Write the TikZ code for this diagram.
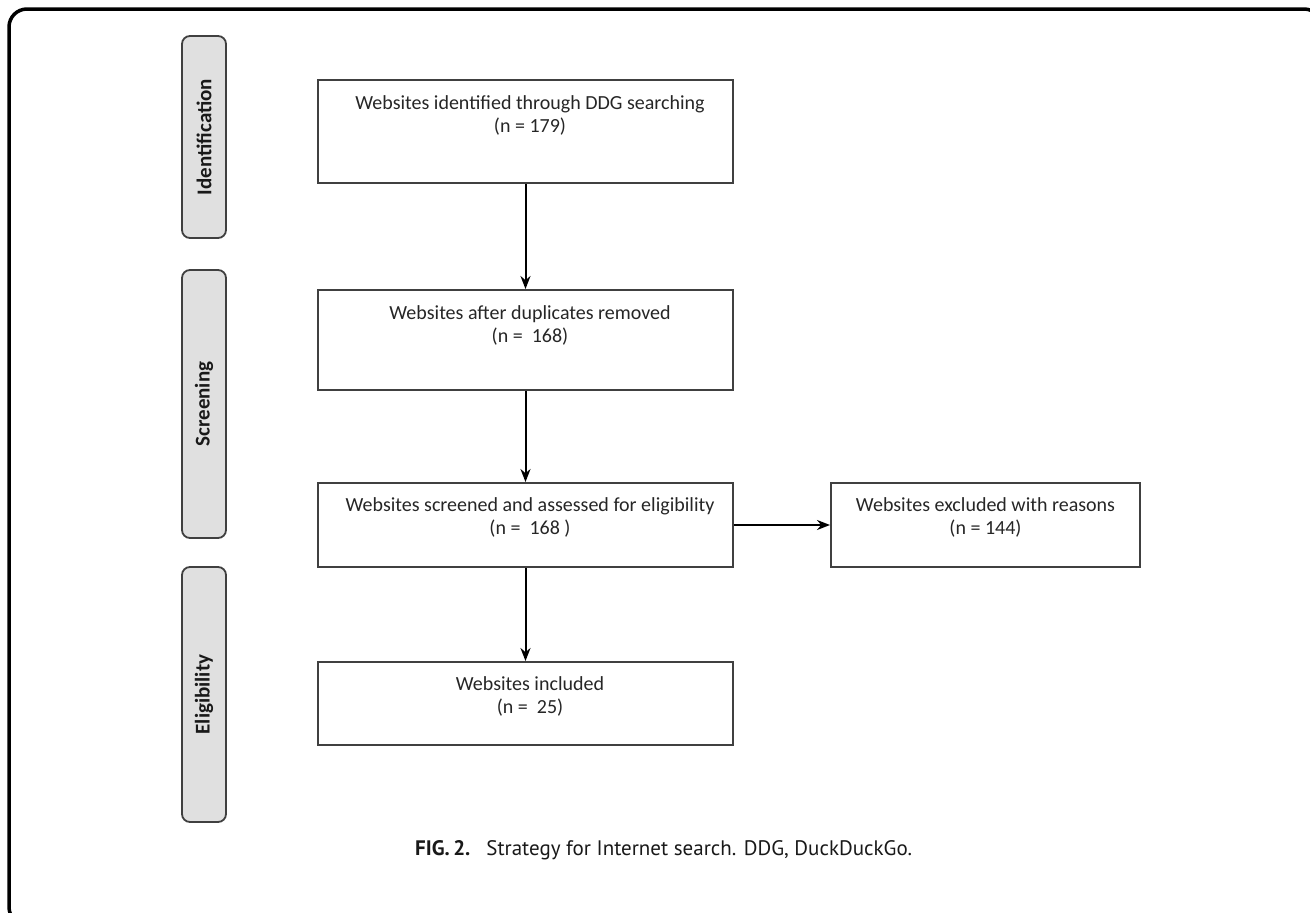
\documentclass[tikz,border=0pt]{standalone}
\usepackage{fontspec}
\setmainfont{Carlito}
\newfontfamily\capfont{PT Sans}
\usetikzlibrary{arrows.meta}
\begin{document}
\begin{tikzpicture}[x=1pt,y=-1pt,
  phase/.style={draw=black!75,fill=black!12,line width=1.8pt,rounded corners=8pt,minimum width=44pt,inner sep=0pt},
  phasetext/.style={rotate=90,font=\fontsize{21}{24}\selectfont\bfseries,text=black!90},
  flowbox/.style={draw=black!75,line width=2pt,inner sep=0pt},
  boxtext/.style={align=center,font=\fontsize{20}{23}\selectfont,text=black!85},
  arr/.style={line width=2pt,-{Stealth[length=13pt,width=10pt]}}]
\useasboundingbox (0,0) rectangle (1310,913);
\begin{scope}
\clip (0,0) rectangle (1310,913);
\draw[line width=3.5pt,rounded corners=18pt] (9,9) rectangle (1322,925);
\end{scope}
% phase labels
\node[phase,minimum height=202pt] (pid) at (204,137) {};
\node[phasetext] (tid) at (pid.center) {Identification};
\node[phase,minimum height=268pt] (psc) at (204,404) {};
\node[phasetext] (tsc) at (psc.center) {Screening};
\node[phase,minimum height=255pt] (pel) at (204,694.5) {};
\node[phasetext] (tel) at (pel.center) {Eligibility};
% boxes
\node[flowbox,minimum width=415pt,minimum height=103pt] (b1) at (525.5,131.5) {};
\node[boxtext] (t1) at (530,115) {Websites identified through DDG searching\\(n = 179)};
\node[flowbox,minimum width=415pt,minimum height=100pt] (b2) at (525.5,340) {};
\node[boxtext] (t2) at (530,325) {Websites after duplicates removed\\(n =\ \ 168)};
\node[flowbox,minimum width=415pt,minimum height=84pt] (b3) at (525.5,525) {};
\node[boxtext] (t3) at (530,517) {Websites screened and assessed for eligibility\\(n =\ \ 168 )};
\node[flowbox,minimum width=309pt,minimum height=84pt] (b4) at (985.5,525) {};
\node[boxtext] (t4) at (985.5,517) {Websites excluded with reasons\\(n = 144)};
\node[flowbox,minimum width=415pt,minimum height=83pt] (b5) at (525.5,703.5) {};
\node[boxtext] (t5) at (530,696) {Websites included\\(n =\ \ 25)};
% arrows
\draw[arr] (b1.south) -- (b2.north);
\draw[arr] (b2.south) -- (b3.north);
\draw[arr] (b3.south) -- (b5.north);
\draw[arr] (b3.east) -- (b4.west);
% caption
\node[anchor=base west,font=\capfont\fontsize{21}{25}\selectfont,inner sep=0pt,text=black!90] (cap) at (415,855) {\textbf{FIG.\,2.}\hspace{16pt}Strategy for Internet search. DDG, DuckDuckGo.};
\end{tikzpicture}
\end{document}
